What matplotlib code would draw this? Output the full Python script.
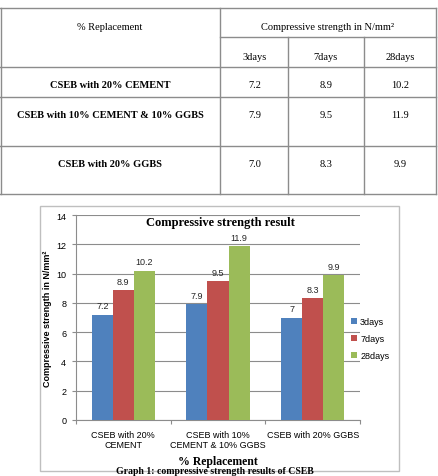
import matplotlib
matplotlib.use("Agg")
import matplotlib.pyplot as plt
from matplotlib.lines import Line2D
from matplotlib.patches import Rectangle
import numpy as np

# ---- data ----
table_rows = ["CSEB with 20% CEMENT", "CSEB with 10% CEMENT & 10% GGBS", "CSEB with 20% GGBS"]
tick_labels = ["CSEB with 20%\nCEMENT", "CSEB with 10%\nCEMENT & 10% GGBS", "CSEB with 20% GGBS"]
series_names = ["3days", "7days", "28days"]
vals_3days = [7.2, 7.9, 7.0]
vals_7days = [8.9, 9.5, 8.3]
vals_28days = [10.2, 11.9, 9.9]
yticks = [0, 2, 4, 6, 8, 10, 12, 14]
colors = ["#4F81BD", "#C0504D", "#9BBB59"]

W, H = 438, 477
fig = plt.figure(figsize=(W / 100, H / 100), dpi=100)
fig.patch.set_facecolor("white")

def fx(x):
    return x / W

def fy(y):
    return 1 - y / H

serif = "Liberation Serif"
sans = "Liberation Sans"
lc = "#8c8c8c"

# ---- table ----
def hline(x0, x1, y):
    fig.add_artist(Line2D([fx(x0), fx(x1)], [fy(y), fy(y)], color=lc, lw=1.0))

def vline(x, y0, y1):
    fig.add_artist(Line2D([fx(x), fx(x)], [fy(y0), fy(y1)], color=lc, lw=1.0))

hline(0, 436, 9)
hline(220, 436, 38)
hline(0, 436, 68)
hline(0, 436, 98)
hline(0, 436, 147)
hline(0, 436, 195)
vline(0.5, 9, 195)
vline(436, 9, 195)
vline(220, 9, 195)
vline(288, 38, 195)
vline(364, 38, 195)

tfs = 7.5
fig.text(fx(110), fy(27), "% Replacement", family=serif, fontsize=tfs, ha="center", va="center")
fig.text(fx(328), fy(27), "Compressive strength in N/mm²", family=serif, fontsize=tfs,
         ha="center", va="center")
col_x = [255, 326, 400]
for cx, name in zip(col_x, series_names):
    fig.text(fx(cx), fy(57), name, family=serif, fontsize=tfs, ha="center", va="center")
row_y = [86, 116, 165]
all_vals = [vals_3days, vals_7days, vals_28days]
for i, (ry, rname) in enumerate(zip(row_y, table_rows)):
    fig.text(fx(110), fy(ry), rname, family=serif, fontsize=tfs, fontweight="bold",
             ha="center", va="center")
    for cx, sv in zip(col_x, all_vals):
        fig.text(fx(cx), fy(ry), f"{sv[i]:.1f}", family=serif, fontsize=tfs,
                 ha="center", va="center")

# ---- chart frame ----
fig.add_artist(Rectangle((fx(40), fy(472)), fx(399) - fx(40), fy(207) - fy(472),
                         fill=False, edgecolor="#bfbfbf", lw=1.0))

ax = fig.add_axes([fx(76), fy(421), fx(360) - fx(76), fy(216) - fy(421)])
x = np.arange(len(tick_labels))
bw = 0.222
for k, (name, sv, c) in enumerate(zip(series_names, all_vals, colors)):
    pos = x + (k - 1) * bw
    bars = ax.bar(pos, sv, width=bw, color=c, label=name, zorder=3)
    for b, v in zip(bars, sv):
        ax.annotate(f"{v:g}", (b.get_x() + b.get_width() / 2, v), xytext=(0, 3),
                    textcoords="offset points", ha="center", va="bottom",
                    fontsize=6.5, family=sans, color="#262626")

ax.set_xlim(-0.5, 2.5)
ax.set_ylim(0, 14)
ax.set_yticks(yticks)
ax.set_yticklabels([str(t) for t in yticks], fontsize=6.5, family=sans)
ax.yaxis.grid(True, color="#8c8c8c", lw=0.8, zorder=0)
ax.set_axisbelow(True)
for s in ["top", "right"]:
    ax.spines[s].set_visible(False)
ax.spines["left"].set_color("#8c8c8c")
ax.spines["bottom"].set_color("#8c8c8c")
ax.tick_params(axis="y", length=3, color="#8c8c8c", pad=4)
ax.set_xticks([-0.5, 0.5, 1.5, 2.5])
ax.set_xticklabels([])
ax.tick_params(axis="x", length=3, color="#8c8c8c")
ax.set_xticks(x, minor=True)
ax.set_xticklabels(tick_labels, minor=True, fontsize=6.5, family=sans)
ax.tick_params(axis="x", which="minor", length=0, pad=7)

fig.text(fx(220), fy(223), "Compressive strength result", family=serif, fontsize=9,
         fontweight="bold", ha="center", va="center")
ax.set_ylabel("Compressive strength in N/mm²", family=sans, fontsize=6.5,
              fontweight="bold", labelpad=3)
ax.set_xlabel("% Replacement", family=serif, fontsize=8.5, fontweight="bold", labelpad=4)

ax.legend(loc="upper left", bbox_to_anchor=(fx(343), fy(310)), bbox_transform=fig.transFigure,
          frameon=False, prop={"family": sans, "size": 6.5},
          handlelength=0.7, handleheight=0.7, handletextpad=0.3, labelspacing=0.9)

fig.text(fx(215), fy(476.5), "Graph 1: compressive strength results of CSEB", family=serif,
         fontsize=7, fontweight="bold", ha="center", va="bottom")

fig.savefig("out.png", dpi=100)
